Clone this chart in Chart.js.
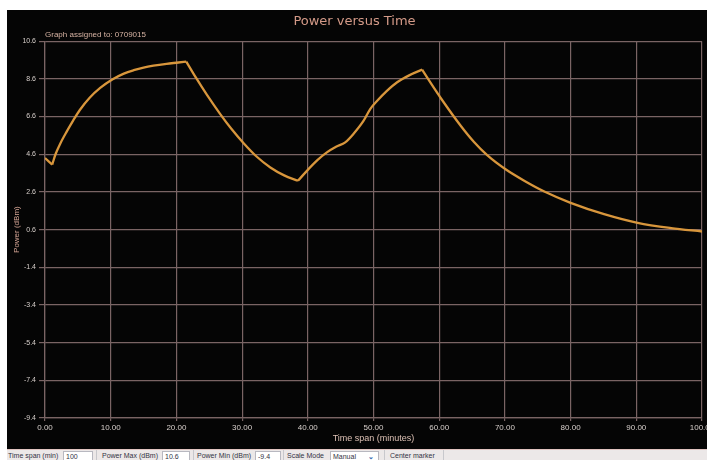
<!DOCTYPE html>
<html lang="en">
<head>
    <meta charset="UTF-8">
    <title>Power versus Time</title>
    <script src="https://cdn.jsdelivr.net/npm/chart.js"></script>
    <style>
        body {
            margin: 0;
            background: #fff;
            width: 707px;
            height: 460px;
            overflow: hidden;
            position: relative;
            font-family: 'Liberation Sans', sans-serif;
        }
        .panel {
            position: absolute;
            left: 7px;
            top: 10px;
            width: 700px;
            height: 439px;
            background: #050505;
        }
        .toolbar {
            position: absolute;
            left: 7px;
            top: 449px;
            width: 700px;
            height: 11px;
            background: #ece8e8;
            border-top: 1px solid #e0c4c0;
            font-size: 7px;
            color: #334;
            white-space: nowrap;
            overflow: hidden;
        }
        .toolbar span, .toolbar .box {
            position: absolute;
            top: 1px;
            line-height: 10px;
        }
        .toolbar .box {
            background: #fff;
            border: 1px solid #b8b8c0;
            height: 10px;
            padding-left: 2px;
            box-sizing: border-box;
        }
        .toolbar .sep {
            border-left: 1px solid #c8c8cc;
            height: 11px;
            top: 0;
        }
    </style>
</head>
<body>
    <div class="panel"><canvas id="powerChart" width="700" height="439"></canvas></div>
    <div class="toolbar">
        <span style="left:1px">Time span (min)</span>
        <div class="box" style="left:56px;width:30px">100</div>
        <span class="sep" style="left:89px"></span>
        <span style="left:95px">Power Max (dBm)</span>
        <div class="box" style="left:155px;width:28px">10.6</div>
        <span class="sep" style="left:186px"></span>
        <span style="left:190px">Power Min (dBm)</span>
        <div class="box" style="left:248px;width:26px">-9.4</div>
        <span class="sep" style="left:276px"></span>
        <span style="left:280px">Scale Mode</span>
        <div class="box" style="left:323px;width:49px">Manual <b style="position:absolute;right:4px;color:#3a6ab0">&#8964;</b></div>
        <span class="sep" style="left:377px"></span>
        <span style="left:383px">Center marker</span>
        <span class="sep" style="left:436px"></span>
    </div>

    <script>
        // valores
        const timeMin = [0, 1.1, 1.6, 2.3, 3.3, 4.3, 5.3, 6.8, 8.4, 10.3, 12, 13.5, 15, 16.5, 18.5, 20.3, 21.5,
            23, 24.6, 26.7, 28.3, 30.2, 32.2, 34.3, 36.4, 38.5, 40.1, 41.5, 42.9, 44.3, 45.7, 47, 48.5,
            49.5, 50.6, 52, 53.6, 55.5, 57.4, 58.8, 60.2, 63.3, 65.3, 67.3, 70.1, 73, 76, 80, 85.1,
            90.2, 95.3, 100];
        const powerDbm = [4.4, 4.05, 4.6, 5.15, 5.8, 6.4, 6.95, 7.6, 8.12, 8.58, 8.88, 9.06, 9.2, 9.3, 9.4, 9.47, 9.52,
            8.65, 7.78, 6.72, 5.98, 5.2, 4.48, 3.9, 3.48, 3.19, 3.81, 4.3, 4.7, 5.0, 5.23, 5.7, 6.38,
            7.0, 7.45, 7.95, 8.42, 8.8, 9.09, 8.33, 7.6, 6.1, 5.25, 4.55, 3.8, 3.18, 2.62, 2.02, 1.42,
            0.96, 0.68, 0.5];
        // indices where the curve has a sharp corner
        const cornerIdx = [0, 1, 16, 25, 38, 51];
        const xTicks = [0, 10, 20, 30, 40, 50, 60, 70, 80, 90, 100];
        const yTicks = [-9.4, -7.4, -5.4, -3.4, -1.4, 0.6, 2.6, 4.6, 6.6, 8.6, 10.6];

        const gridColor = '#7a6464';

        // one smooth piece between each pair of corners
        const pieces = [];
        for (let k = 0; k < cornerIdx.length - 1; k++) {
            const pts = [];
            for (let i = cornerIdx[k]; i <= cornerIdx[k + 1]; i++) {
                pts.push({ x: timeMin[i], y: powerDbm[i] });
            }
            pieces.push({
                data: pts,
                borderColor: '#d8963c',
                borderWidth: 2.3,
                pointRadius: 0,
                cubicInterpolationMode: 'monotone'
            });
        }

        new Chart(document.getElementById('powerChart'), {
            type: 'line',
            data: { datasets: pieces },
            options: {
                responsive: false,
                animation: false,
                devicePixelRatio: 1,
                layout: { padding: { right: 5, bottom: 0 } },
                plugins: {
                    legend: { display: false },
                    tooltip: { enabled: false },
                    title: {
                        display: true,
                        text: 'Power versus Time',
                        color: '#d49a88',
                        font: { family: 'DejaVu Sans', size: 13, weight: 'normal' },
                        padding: { top: 4, bottom: 0 }
                    },
                    subtitle: {
                        display: true,
                        text: 'Graph assigned to: 0709015',
                        align: 'start',
                        fullSize: false,
                        color: '#d8b4a4',
                        font: { family: 'Liberation Sans', size: 8 },
                        padding: { top: 0, bottom: 2 }
                    }
                },
                scales: {
                    x: {
                        type: 'linear',
                        min: 0,
                        max: 100,
                        afterBuildTicks: s => { s.ticks = xTicks.map(v => ({ value: v })); },
                        afterFit: s => { s.height = 31; s.paddingRight = 0; },
                        ticks: {
                            color: '#d8d0cc',
                            font: { family: 'Liberation Sans', size: 8 },
                            padding: 2,
                            maxRotation: 0,
                            callback: v => v.toFixed(2)
                        },
                        grid: { color: gridColor, lineWidth: 1.2, tickLength: 3 },
                        border: { color: gridColor, width: 1.2 },
                        title: {
                            display: true,
                            text: 'Time span (minutes)',
                            color: '#dcc0b4',
                            font: { family: 'Liberation Sans', size: 9 },
                            padding: { top: 0, bottom: 5 }
                        }
                    },
                    y: {
                        type: 'linear',
                        min: -9.4,
                        max: 10.6,
                        afterBuildTicks: s => { s.ticks = yTicks.map(v => ({ value: v })); },
                        afterFit: s => { s.width = 38; },
                        ticks: {
                            color: '#d8d0cc',
                            font: { family: 'Liberation Sans', size: 7 },
                            padding: 3,
                            callback: v => v.toFixed(1)
                        },
                        grid: { color: gridColor, lineWidth: 1.2, tickLength: 6 },
                        border: { color: gridColor, width: 1.2 },
                        title: {
                            display: true,
                            text: 'Power (dBm)',
                            color: '#d4a494',
                            font: { family: 'Liberation Sans', size: 8 },
                            padding: { top: 5, bottom: 0 }
                        }
                    }
                }
            }
        });
    </script>
</body>
</html>
